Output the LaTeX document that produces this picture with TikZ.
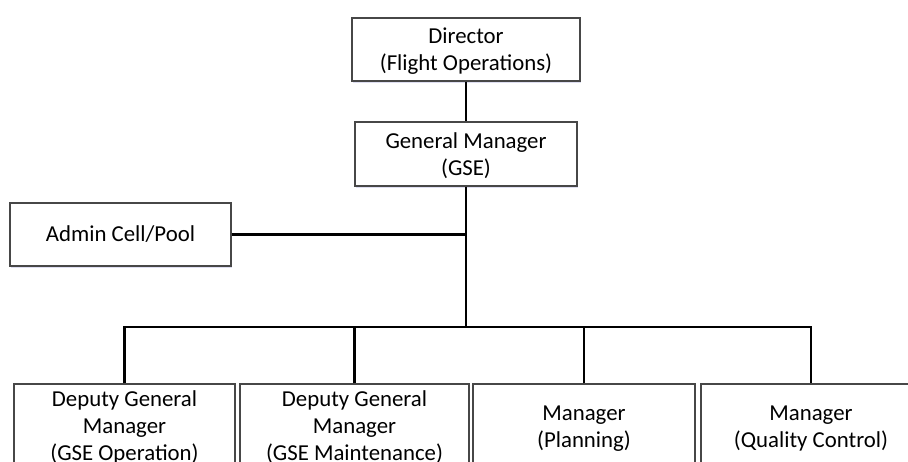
\documentclass[tikz,border=0pt]{standalone}
\usepackage{fontspec}
\setmainfont{Carlito}
\usetikzlibrary{shadows}
% centred lines of a box, set a little lower without changing the box size
\newcommand\orgtext[1]{\raisebox{-2.5pt}[\height][\depth]{\begin{tabular}{@{}c@{}}#1\end{tabular}}}
\begin{document}
\begin{tikzpicture}[x=1pt,y=-1pt,
  orgbox/.style={draw=black!72, line width=1.3pt, fill=white, align=center,
    inner sep=0pt, font=\fontsize{22.8}{27}\selectfont,
    drop shadow={shadow xshift=0.8pt, shadow yshift=-1.6pt, opacity=0.18, fill=blue!40!gray}},
  link/.style={line width=2.4pt, black}]
\useasboundingbox (0,0) rectangle (908,462);
\clip (0,0) rectangle (908,462);
\fill[white] (0,0) rectangle (908,462);

\node[orgbox, minimum width=228pt, minimum height=63pt] (dir) at (466,49.5)
  {\orgtext{Director\\(Flight Operations)}};
\node[orgbox, minimum width=222pt, minimum height=64pt] (gm) at (466,154)
  {\orgtext{General Manager\\(GSE)}};
\node[orgbox, minimum width=221pt, minimum height=63pt] (adm) at (120.5,234.5)
  {Admin Cell/Pool};

\node[orgbox, minimum width=221pt, minimum height=84pt] (b1) at (124.5,426)
  {\orgtext{Deputy General\\Manager\\(GSE Operation)}};
\node[orgbox, minimum width=229pt, minimum height=84pt] (b2) at (354.5,426)
  {\orgtext{Deputy General\\Manager\\(GSE Maintenance)}};
\node[orgbox, minimum width=222pt, minimum height=84pt] (b3) at (584,426)
  {\orgtext{Manager\\(Planning)}};
\node[orgbox, minimum width=220pt, minimum height=84pt] (b4) at (811,426)
  {\orgtext{Manager\\(Quality Control)}};

\coordinate (bar) at (466,327);

\draw[link] (dir) -- (gm);
\draw[link] (gm.south) -- (bar);
\draw[link] (adm.east) -- (adm.east -| gm.south);
\draw[link] (b1.north) |- (bar);
\draw[link] (b4.north) |- (bar);
\draw[link] (b2.north) -- (b2.north |- bar);
\draw[link] (b3.north) -- (b3.north |- bar);
\end{tikzpicture}
\end{document}
